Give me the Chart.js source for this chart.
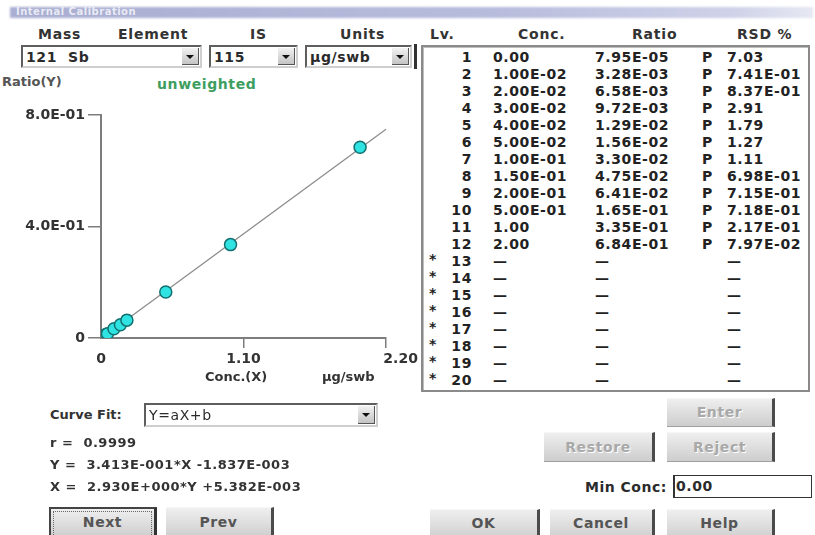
<!DOCTYPE html>
<html>
<head>
<meta charset="utf-8">
<script src="https://cdn.jsdelivr.net/npm/chart.js@4.4.0/dist/chart.umd.min.js"></script>
<style>
  body { margin:0; width:815px; height:535px; overflow:hidden; background:#fff;
         font-family:"DejaVu Sans", sans-serif; font-weight:bold; font-size:14px; color:#2b2b2b; position:relative; }
  .t { position:absolute; white-space:nowrap; line-height:16px; height:16px; }
  .hdr { letter-spacing:0.8px; color:#333; }
  .titlebar { position:absolute; left:10px; top:7px; width:803px; height:11px;
              background:linear-gradient(to right,#a9aed2,#b8bcdc 60%,#cfd2e8 90%,#e6e8f3);
              filter:blur(0.8px); }
  .titletext { position:absolute; left:16px; top:6px; font-size:10px; line-height:12px; color:rgba(255,255,255,0.75); letter-spacing:0.5px; }
  .combo { position:absolute; box-sizing:border-box; background:#fff;
           border:2px solid; border-color:#5e5e5e #cfcfcf #cfcfcf #5e5e5e; }
  .combo span { position:absolute; left:3px; top:2px; line-height:16px; letter-spacing:0.6px; }
  .combo i { position:absolute; right:1px; top:1px; bottom:1px; width:16px;
             background:linear-gradient(#f2f2f2,#c4c4c4); border-right:1px solid #555; border-bottom:1px solid #555; }
  .combo i::after { content:''; position:absolute; left:4px; top:7px;
             border-left:4px solid transparent; border-right:4px solid transparent; border-top:4px solid #111; }
  .box { position:absolute; left:421px; top:45px; width:389px; height:347px; box-sizing:border-box;
         border:2px solid #8a8a8a; box-shadow:inset 1px 1px 0 #bdbdbd; }
  .cell { letter-spacing:0.6px; color:#222; }
  .btn { position:absolute; box-sizing:border-box; background:linear-gradient(#efefef,#cdcdcd);
         border-right:3px solid #4b4b4b; border-bottom:1px solid #a0a0a0; border-top:1px solid #f6f6f6;
         text-align:center; color:#555; letter-spacing:0.6px; }
  .btn.off { color:#a9a9a9; text-shadow:1px 1px 0 #fff; }
  .btn.focus { border:2px solid #444; border-right:3px solid #333; }
  .btn.focus::before { content:''; position:absolute; left:2px; top:2px; right:2px; bottom:-2px; border:1px dotted #666; }
  .eq { font-size:13px; letter-spacing:0.5px; color:#333; }
</style>
</head>
<body>
<div class="titlebar"></div>
<div class="titletext">Internal Calibration</div>

<div class="t hdr" style="left:38px;top:26px">Mass</div>
<div class="t hdr" style="left:118px;top:26px">Element</div>
<div class="t hdr" style="left:250px;top:26px">IS</div>
<div class="t hdr" style="left:340px;top:26px">Units</div>
<div class="t hdr" style="left:430px;top:26px">Lv.</div>
<div class="t hdr" style="left:518px;top:26px">Conc.</div>
<div class="t hdr" style="left:632px;top:26px">Ratio</div>
<div class="t hdr" style="left:737px;top:26px">RSD %</div>

<div class="combo" style="left:21px;top:45px;width:181px;height:23px"><span>121&nbsp; Sb</span><i></i></div>
<div class="combo" style="left:209px;top:45px;width:89px;height:23px"><span>115</span><i></i></div>
<div class="combo" style="left:305px;top:45px;width:107px;height:23px"><span>µg/swb</span><i></i></div>

<div class="t" style="left:2px;top:74px;color:#555;font-size:13px">Ratio(Y)</div>
<div class="t" style="left:157px;top:76px;color:#3e9e60;letter-spacing:0.6px">unweighted</div>

<div style="position:absolute;left:0;top:100px;width:420px;height:300px">
  <canvas id="calChart" width="420" height="300"></canvas>
</div>
<div class="t" style="left:205px;top:369px;font-size:13px;color:#333">Conc.(X)</div>
<div class="t" style="left:322px;top:369px;font-size:13px;color:#333">µg/swb</div>

<div style="position:absolute;left:414px;top:44px;width:3px;height:25px;background:#333"></div>
<div class="box"></div>
<div id="rows"></div>

<div class="t" style="left:50px;top:407px;font-size:13px;color:#333">Curve Fit:</div>
<div class="combo" style="left:144px;top:403px;width:234px;height:24px"><span style="font-weight:normal">Y=aX+b</span><i></i></div>
<div class="t eq" style="left:50px;top:435px">r =&nbsp; 0.9999</div>
<div class="t eq" style="left:50px;top:457px">Y =&nbsp; 3.413E-001*X -1.837E-003</div>
<div class="t eq" style="left:50px;top:479px">X =&nbsp; 2.930E+000*Y +5.382E-003</div>

<div class="btn focus" style="left:49px;top:507px;width:108px;height:32px;line-height:26px">Next</div>
<div class="btn" style="left:166px;top:507px;width:108px;height:32px;line-height:28px">Prev</div>

<div class="btn off" style="left:667px;top:398px;width:108px;height:29px;line-height:27px">Enter</div>
<div class="btn off" style="left:544px;top:432px;width:111px;height:30px;line-height:28px">Restore</div>
<div class="btn off" style="left:667px;top:432px;width:108px;height:30px;line-height:28px">Reject</div>

<div class="t" style="left:585px;top:479px;letter-spacing:0.5px">Min Conc:</div>
<div style="position:absolute;left:673px;top:475px;width:139px;height:23px;box-sizing:border-box;border:1px solid #333;border-left:2px solid #333">
  <div class="t" style="left:1px;top:2px;letter-spacing:0.6px">0.00</div>
</div>

<div class="btn" style="left:430px;top:509px;width:110px;height:32px;line-height:26px">OK</div>
<div class="btn" style="left:550px;top:509px;width:105px;height:32px;line-height:26px">Cancel</div>
<div class="btn" style="left:667px;top:509px;width:108px;height:32px;line-height:26px">Help</div>

<script>
// calibration levels
const concValues = [0, 0.01, 0.02, 0.03, 0.04, 0.05, 0.10, 0.15, 0.20, 0.50, 1.00, 2.00];
const ratioValues = [7.95e-5, 3.28e-3, 6.58e-3, 9.72e-3, 1.29e-2, 1.56e-2, 3.30e-2, 4.75e-2, 6.41e-2, 1.65e-1, 3.35e-1, 6.84e-1];
const rsdValues = [7.03, 0.741, 0.837, 2.91, 1.79, 1.27, 1.11, 0.698, 0.715, 0.718, 0.217, 0.0797];
const levelCount = 20;

// fitted line end points (Y = 3.413E-001*X - 1.837E-003)
const fitX = [0, 2.20];
const fitY = [-0.00184, 0.7490];

const xTicks = [0, 1.10, 2.20];
const xTickLabels = ['0', '1.10', '2.20'];
const yTicks = [0, 0.4, 0.8];
const yTickLabels = ['0', '4.0E-01', '8.0E-01'];

function fmt(v) {
  if (v === 0 || v >= 1) return v.toFixed(2);
  const parts = v.toExponential(2).toUpperCase().split('E');
  const n = parseInt(parts[1], 10);
  return parts[0] + 'E' + (n < 0 ? '-' : '+') + String(Math.abs(n)).padStart(2, '0');
}

// table rows
const rowsEl = document.getElementById('rows');
function cell(text, left, top, extra) {
  const d = document.createElement('div');
  d.className = 't cell';
  d.style.left = left + 'px';
  d.style.top = top + 'px';
  if (extra) d.style.cssText += extra;
  d.textContent = text;
  rowsEl.appendChild(d);
}
for (let i = 0; i < levelCount; i++) {
  const top = 49 + i * 17;
  cell(String(i + 1), 436, top, 'width:36px;text-align:right;');
  if (i < concValues.length) {
    cell(fmt(concValues[i]), 493, top);
    cell(fmt(ratioValues[i]), 595, top);
    cell('P', 702, top);
    cell(fmt(rsdValues[i]), 727, top);
  } else {
    cell('*', 429, top - 2);
    cell('—', 493, top);
    cell('—', 595, top);
    cell('—', 727, top);
  }
}

const axisGrey = '#7d7d7d';
const tickFont = { family: 'DejaVu Sans', weight: 'bold', size: 14 };

new Chart(document.getElementById('calChart').getContext('2d'), {
  type: 'scatter',
  data: {
    datasets: [{
      data: concValues.map((x, i) => ({ x, y: ratioValues[i] })),
      pointRadius: 6,
      pointBackgroundColor: '#2fe3e3',
      pointBorderColor: '#13706f',
      pointBorderWidth: 1.5,
      order: 0
    }, {
      type: 'line',
      data: fitX.map((x, i) => ({ x, y: fitY[i] })),
      borderColor: '#8c8c8c',
      borderWidth: 1.3,
      pointRadius: 0,
      clip: false,
      order: 1
    }]
  },
  options: {
    responsive: false,
    animation: false,
    devicePixelRatio: 1,
    layout: { padding: { left: 0, right: 34, top: 15, bottom: 0 } },
    plugins: { legend: { display: false }, tooltip: { enabled: false } },
    scales: {
      x: {
        type: 'linear', min: 0, max: 2.2,
        afterBuildTicks: s => { s.ticks = xTicks.map(v => ({ value: v })); },
        afterFit: s => { s.height = 62; s.paddingLeft = 0; s.paddingRight = 0; },
        grid: { drawOnChartArea: false, tickLength: 10, lineWidth: 1.5,
                color: c => c.index === 0 ? 'rgba(0,0,0,0)' : axisGrey },
        border: { color: axisGrey, width: 2 },
        ticks: {
          font: tickFont, color: '#333', padding: 3, maxRotation: 0, autoSkip: false,
          callback: (v, i) => i === xTickLabels.length - 1 ? '      ' + xTickLabels[i] : xTickLabels[i]
        }
      },
      y: {
        min: 0, max: 0.8,
        afterBuildTicks: s => { s.ticks = yTicks.map(v => ({ value: v })); },
        afterFit: s => { s.width = 101; s.paddingTop = 0; s.paddingBottom = 0; },
        grid: { drawOnChartArea: false, tickLength: 13, lineWidth: 1.5, color: axisGrey },
        border: { color: axisGrey, width: 2 },
        ticks: { font: tickFont, color: '#333', padding: 3, callback: (v, i) => yTickLabels[i] }
      }
    }
  }
});
</script>
</body>
</html>
